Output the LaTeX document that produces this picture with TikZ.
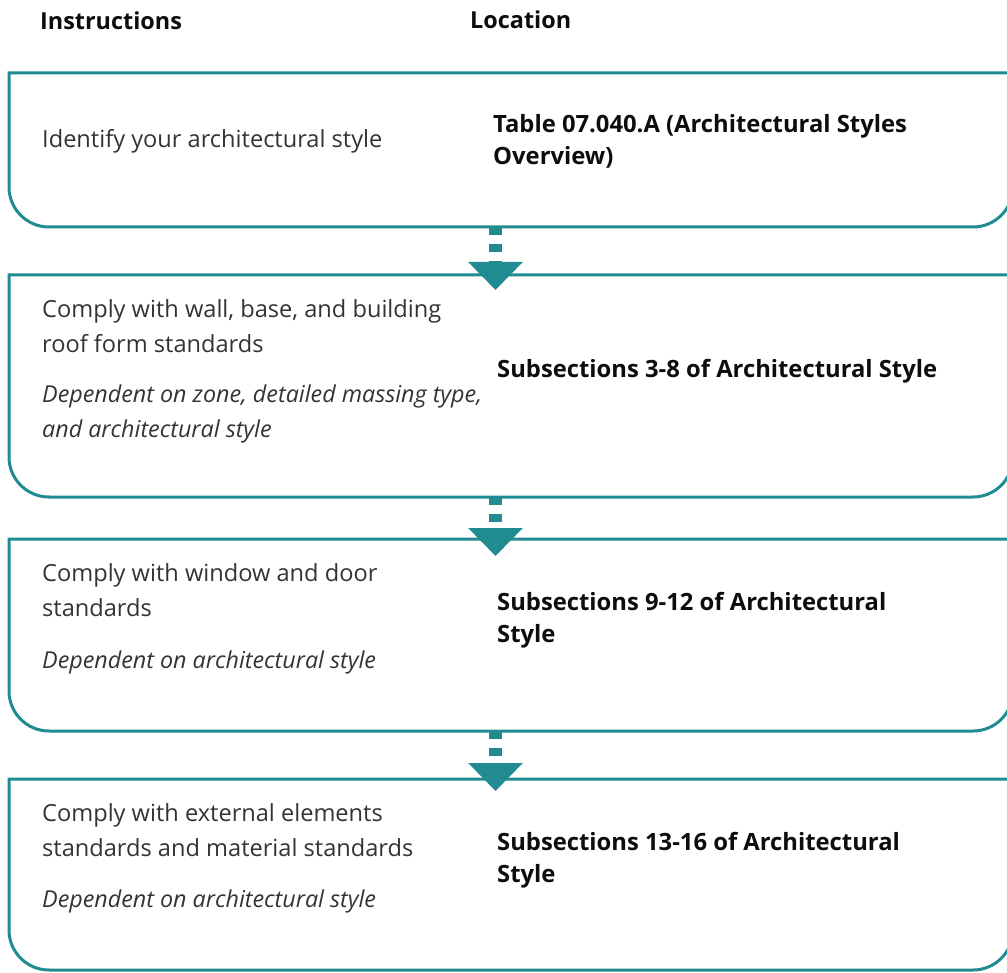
\documentclass[tikz,border=0pt]{standalone}
\usepackage{fontspec}
\setmainfont{Open Sans}
\usetikzlibrary{arrows.meta}
\usetikzlibrary{positioning}
\definecolor{teal1}{RGB}{33,139,146}

\tikzset{
	stepbox/.style={draw=none, minimum width=1004pt, inner sep=0pt, outer sep=0pt},
	boxline/.style={draw=teal1, line width=3pt},
	instr/.style={anchor=base west, align=left, inner sep=0pt, text=black!80, font=\fontsize{23.6}{35}\selectfont},
	note/.style={instr, font=\fontsize{23.3}{35}\selectfont\itshape},
	loc/.style={anchor=base west, align=left, inner sep=0pt, text=black!95, font=\fontsize{23.8}{32}\selectfont\bfseries},
	head/.style={anchor=base west, inner sep=0pt, text=black!95, font=\fontsize{23.4}{23.4}\selectfont\bfseries},
	flow/.style={teal1, line width=13pt, dash pattern=on 8pt off 9pt, -{Triangle[width=53pt,length=28pt]}},
}

\begin{document}
\begin{tikzpicture}[x=1pt, y=1pt]
	\useasboundingbox (0,0) rectangle (1007,-973);
	\clip (0,0) rectangle (1007,-973);

	% column heads
	\node[head] (hinstr) at (40,-30) {Instructions};
	\node[head] (hloc) at (470,-29) {Location};

	% boxes
	\node[stepbox, minimum height=154pt] (b1) at (511,-150) {};
	\node[stepbox, minimum height=222pt] (b2) at (511,-386) {};
	\node[stepbox, minimum height=192pt] (b3) at (511,-635) {};
	\node[stepbox, minimum height=191pt] (b4) at (511,-874.5) {};

	\foreach \b in {b1,b2,b3,b4}
	{
		\draw [boxline] (\b.north west) -- (\b.north east) -- ([yshift=40pt]\b.south east)
			arc[start angle=0, end angle=-90, radius=40pt] -- ([xshift=40pt]\b.south west)
			arc[start angle=-90, end angle=-180, radius=40pt] -- cycle;
	}

	% instructions (base = last line)
	\node[instr] (i1) at (42,-148) {Identify your architectural style};
	\node[instr] (i2) at (42,-353) {Comply with wall, base, and building\\roof form standards};
	\node[note] (n2) at (42,-438) {Dependent on zone, detailed massing type,\\and architectural style};
	\node[instr] (i3) at (42,-616) {Comply with window and door\\standards};
	\node[note] (n3) at (42,-668) {Dependent on architectural style};
	\node[instr] (i4) at (42,-856) {Comply with external elements\\standards and material standards};
	\node[note] (n4) at (42,-907) {Dependent on architectural style};

	% locations
	\node[loc] (l1) at (493,-165) {Table 07.040.A (Architectural Styles\\Overview)};
	\node[loc] (l2) at (497,-378) {Subsections 3-8 of Architectural Style};
	\node[loc] (l3) at (497,-642) {Subsections 9-12 of Architectural\\Style};
	\node[loc] (l4) at (497,-882) {Subsections 13-16 of Architectural\\Style};

	% arrows
	\draw [flow] ([xshift=-15.5pt]b1.south) -- ([xshift=-15.5pt, yshift=-15pt]b2.north);
	\draw [flow] ([xshift=-15.5pt]b2.south) -- ([xshift=-15.5pt, yshift=-17pt]b3.north);
	\draw [flow] ([xshift=-15.5pt]b3.south) -- ([xshift=-15.5pt, yshift=-12pt]b4.north);

\end{tikzpicture}
\end{document}
